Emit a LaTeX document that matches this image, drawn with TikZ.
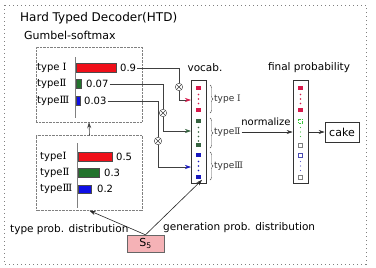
\documentclass[tikz,border=0pt]{standalone}
\usepackage{fontspec}
\setmainfont{DejaVu Sans}
\newfontfamily\romfont{DejaVu Serif}
\newcommand{\rI}{{\romfont Ⅰ}}
\newcommand{\rII}{{\romfont Ⅱ}}
\newcommand{\rIII}{{\romfont Ⅲ}}
\usetikzlibrary{arrows.meta, positioning, decorations.pathreplacing}
\definecolor{barred}{RGB}{240,15,25}
\definecolor{bargreen}{RGB}{35,115,45}
\definecolor{barblue}{RGB}{15,15,230}
\definecolor{sqred}{RGB}{215,25,75}
\definecolor{sqgreen}{RGB}{55,100,65}
\definecolor{sqblue}{RGB}{25,25,190}
\definecolor{spink}{RGB}{245,178,182}

\begin{document}
\begin{tikzpicture}[x=1pt, y=-1pt, >={Stealth[length=6pt,width=4pt]},
    font=\fontsize{10.5}{12}\selectfont,
    probbox/.style={draw=gray, densely dotted, minimum width=106pt, minimum height=75pt},
    col/.style={draw=black!80, line width=0.6pt, minimum width=15pt, minimum height=103pt, inner sep=0pt},
    wire/.style={draw=black!75, line width=0.6pt},
    gate/.style={circle, draw=black!75, fill=white, minimum size=7.5pt, inner sep=0pt,
      path picture={\draw[black!75] (path picture bounding box.north west) -- (path picture bounding box.south east)
        (path picture bounding box.north east) -- (path picture bounding box.south west);}},
    lab/.style={font=\fontsize{10}{12}\selectfont, inner sep=1pt},
    brlab/.style={font=\fontsize{9}{11}\selectfont, inner sep=1pt, text=black!80},
    bar/.style={draw=black!70, thin},
    br/.style={decorate, decoration={brace, amplitude=3pt}, draw=black!70}]
  \useasboundingbox (0,0) rectangle (376,268);
  \draw[gray, line width=0.9pt, dash pattern=on 1pt off 3pt] (4,5) rectangle (366,264);

  \node[anchor=west, inner sep=1pt, font=\fontsize{12}{14}\selectfont] (title) at (19,18) {Hard Typed Decoder(HTD)};
  \node[anchor=west, inner sep=1pt, font=\fontsize{11}{13}\selectfont] (gumbel) at (23,35) {Gumbel-softmax};

  % type distributions
  \node[probbox] (topbox) at (89,84.5) {};
  \node[probbox] (lowbox) at (89.5,173) {};
  \draw[gray, line width=0.6pt] (75,57) -- (75,118);
  \draw[gray, line width=0.6pt] (77,143) -- (77,208);

  \draw[bar, fill=barred] (76,63.5) rectangle (116,72.5);
  \draw[bar, fill=bargreen] (76,79.5) rectangle (81,88.5);
  \draw[bar, fill=barblue] (76,96.5) rectangle (80,105.5);
  \node[lab, anchor=west] (a1) at (36,68) {type \rI};
  \node[lab, anchor=west] (a2) at (36,84) {type\rII};
  \node[lab, anchor=west] (a3) at (36,101) {type\rIII};
  \node[lab, anchor=west] (v1) at (119,68) {0.9};
  \node[lab, anchor=west] (v2) at (85,84) {0.07};
  \node[lab, anchor=west] (v3) at (83,101) {0.03};

  \draw[bar, fill=barred] (78,152) rectangle (112,161);
  \draw[bar, fill=bargreen] (78,168) rectangle (99,177);
  \draw[bar, fill=barblue] (78,185) rectangle (91,193.5);
  \node[lab, anchor=west] (b1) at (39,156.5) {type\rI};
  \node[lab, anchor=west] (b2) at (39,172.5) {type\rII};
  \node[lab, anchor=west] (b3) at (39,189) {type\rIII};
  \node[lab, anchor=west] (w1) at (115,156.5) {0.5};
  \node[lab, anchor=west] (w2) at (103,172.5) {0.3};
  \node[lab, anchor=west] (w3) at (96,189) {0.2};

  \draw[->, wire] (lowbox.north) -- (topbox.south);

  % source state
  \node[draw=black!60, fill=spink, minimum width=37pt, minimum height=17pt, inner sep=0pt,
        font=\fontsize{11}{13}\selectfont] (s5) at (145.5,243.5) {S\textsubscript{5}};
  \node[anchor=west, inner sep=1pt] (tpd) at (9,230) {type prob. distribution};
  \node[anchor=west, inner sep=1pt] (gpd) at (162,228) {generation prob. distribution};

  % vocabulary column
  \node[col] (vocab) at (198.5,131.5) {};
  \node (vlab) at (205,68) {vocab.};
  \fill[sqred] (196.25,85.75) rectangle +(4.5,4.5);
  \fill[sqred] (196.25,107.75) rectangle +(4.5,4.5);
  \fill[sqgreen] (196.25,118.75) rectangle +(4.5,4.5);
  \fill[sqgreen] (196.25,142.75) rectangle +(4.5,4.5);
  \fill[sqblue] (196.25,152.75) rectangle +(4.5,4.5);
  \fill[sqblue] (196.25,174.75) rectangle +(4.5,4.5);
  \foreach \y in {94.5,99,103.5} \fill[sqred] (198.5,\y) circle (0.8);
  \foreach \y in {127.5,132,136.5,141} \fill[sqgreen] (198.5,\y) circle (0.8);
  \foreach \y in {161.5,166,170.5} \fill[sqblue] (198.5,\y) circle (0.8);

  \begin{scope}[y=1pt]
    \draw[br] (210,-85) -- (210,-113);
    \draw[br] (210,-118) -- (210,-148);
    \draw[br] (210,-152) -- (210,-180);
  \end{scope}
  \node[brlab, anchor=west] (tI) at (213,99) {type \rI};
  \node[brlab, anchor=west] (tII) at (213,132) {type\rII};
  \node[brlab, anchor=west] (tIII) at (213,166) {type\rIII};

  % gates
  \node[gate] (gate1) at (179,87) {};
  \node[gate] (gate2) at (163,113) {};
  \node[gate] (gate3) at (158,141) {};
  \coordinate (in1) at (191,100);
  \coordinate (in2) at (191,131);
  \coordinate (in3) at (191,167);
  \draw[wire] (v1.east) -| (gate1.north);
  \draw[wire] (v2.east) -| (gate2.north);
  \draw[wire] (v3.east) -| (gate3.north);
  \draw[wire, -{Stealth[length=6pt,width=4pt,color=sqred]}] (gate1.south) |- (in1);
  \draw[wire, -{Stealth[length=6pt,width=4pt,color=sqgreen]}] (gate2.south) |- (in2);
  \draw[wire, -{Stealth[length=6pt,width=4pt,color=sqblue]}] (gate3.south) |- (in3);

  \draw[->, black!85, line width=0.6pt] (s5.north) -- (lowbox.south);
  \draw[->, black!85, line width=0.6pt, shorten >=-5pt] (s5.north) -- (vocab.south);

  % final probability column
  \node[col] (fin) at (300.5,131.5) {};
  \node (flab) at (309,68) {final probability};
  \fill[sqred] (298.25,85.75) rectangle +(4.5,4.5);
  \fill[sqred] (298.25,107.75) rectangle +(4.5,4.5);
  \foreach \y in {94.5,99,103.5} \fill[sqred] (300.5,\y) circle (0.8);
  \draw[green!55!gray, densely dotted] (298.5,119) rectangle +(4,4);
  \draw[gray] (298.5,143) rectangle +(4,4);
  \foreach \y in {127.5,132,136.5} \fill[green!50!gray] (300.5,\y) circle (0.6);
  \draw[blue!40!gray] (298.5,153) rectangle +(4,4);
  \draw[gray] (298.5,175) rectangle +(4,4);
  \foreach \y in {161.5,166,170.5} \fill[sqblue!70] (300.5,\y) circle (0.7);

  \node[font=\fontsize{10}{12}\selectfont] (norm) at (266,122) {normalize};
  \draw[->, black!80, line width=0.6pt] (tII.east) -- (tII.east -| fin.west);

  \node[draw=black!80, line width=0.6pt, minimum width=34pt, minimum height=20pt, inner sep=0pt,
        font=\fontsize{11}{13}\selectfont] (cake) at (342,132) {cake};
  \draw[->, black!80, line width=0.6pt] (fin.east |- cake.west) -- (cake.west);
\end{tikzpicture}
\end{document}
